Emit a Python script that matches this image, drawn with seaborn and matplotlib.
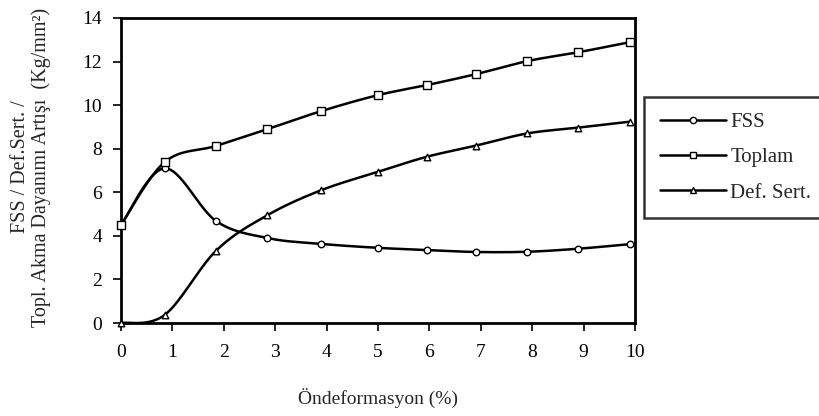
import numpy as np
import pandas as pd
import matplotlib
matplotlib.use("Agg")
import matplotlib.pyplot as plt
import seaborn as sns
from matplotlib.lines import Line2D

# ---- data ----
x_vals = [0, 0.85, 1.85, 2.85, 3.9, 5.0, 5.95, 6.9, 7.9, 8.9, 9.9]
fss = [4.5, 7.1, 4.68, 3.9, 3.63, 3.45, 3.35, 3.26, 3.27, 3.41, 3.62]
toplam = [4.5, 7.39, 8.13, 8.9, 9.73, 10.46, 10.92, 11.42, 12.02, 12.43, 12.89]
def_sert = [0.0, 0.37, 3.32, 4.95, 6.1, 6.94, 7.63, 8.14, 8.7, 8.97, 9.24]
series_names = ["FSS", "Toplam", "Def. Sert."]
series_markers = ["o", "s", "^"]
x_ticks = list(range(0, 11))
y_ticks = list(range(0, 15, 2))

def smooth(xs, ys, n=30):
    """Excel-style smoothed line (Bezier with tension 1/6)."""
    P = np.column_stack([xs, ys]).astype(float)
    out = []
    m = len(P)
    for i in range(m - 1):
        p0 = P[i - 1] if i > 0 else P[i]
        p1 = P[i]
        p2 = P[i + 1]
        p3 = P[i + 2] if i + 2 < m else P[i + 1]
        c1 = p1 + (p2 - p0) / 6.0
        c2 = p2 - (p3 - p1) / 6.0
        t = np.linspace(0, 1, n, endpoint=(i == m - 2))[:, None]
        b = ((1 - t) ** 3) * p1 + 3 * ((1 - t) ** 2) * t * c1 + 3 * (1 - t) * t ** 2 * c2 + t ** 3 * p2
        out.append(b)
    return np.vstack(out)

sns.set_style("white")
plt.rcParams["font.family"] = ["Liberation Serif", "DejaVu Serif"]

FS = 14

fig = plt.figure(figsize=(8.19, 4.16), dpi=100)
ax = fig.add_axes([121 / 819, 1 - 323 / 416, (635 - 121) / 819, (323 - 18) / 416])

rows = []
for name, ys in zip(series_names, [fss, toplam, def_sert]):
    curve = smooth(x_vals, ys)
    df = pd.DataFrame({"x": curve[:, 0], "y": curve[:, 1]})
    sns.lineplot(data=df, x="x", y="y", ax=ax, color="black", linewidth=1.8,
                 sort=False, estimator=None)
    for xv, yv in zip(x_vals, ys):
        rows.append({"x": xv, "y": yv, "series": name})

pts = pd.DataFrame(rows)
for name, mk in zip(series_names, series_markers):
    sub = pts[pts["series"] == name]
    sns.scatterplot(data=sub, x="x", y="y", ax=ax, marker=mk, s=28 if mk == "s" else 22,
                    facecolor="white", edgecolor="black", linewidth=1.0, zorder=5,
                    clip_on=False)

ax.set_xlim(0, 10)
ax.set_ylim(0, 14)
ax.set_xticks(x_ticks)
ax.set_yticks(y_ticks)
ax.tick_params(axis="both", direction="out", length=5.5, width=1.2, labelsize=FS,
               bottom=True, left=True, colors="black")
ax.tick_params(axis="x", pad=9.5)
ax.tick_params(axis="y", pad=8)
for s in ax.spines.values():
    s.set_visible(True)
    s.set_color("black")
    s.set_linewidth(2.0)

ax.set_xlabel("")
ax.set_ylabel("")
fig.text(378 / 819, 1 - 398 / 416, "Öndeformasyon (%)", fontsize=FS, ha="center", va="center")
fig.text(31 / 819, 1 - 167 / 416, "FSS / Def.Sert. /\nTopl. Akma Dayanımı Artışı  (Kg/mm²)",
         fontsize=14.5, rotation=90, ha="center", va="center", multialignment="center",
         linespacing=1.1)

handles = [Line2D([0], [0], color="black", linewidth=1.8, marker=mk, markersize=4.5,
                  markerfacecolor="white", markeredgecolor="black", markeredgewidth=1.0)
           for mk in series_markers]
leg = fig.legend(handles, series_names, loc="upper left",
                 bbox_to_anchor=(644 / 819, 1 - 97 / 416), frameon=True, fancybox=False,
                 fontsize=15, handlelength=3.2, labelspacing=0.75, borderpad=0.75,
                 handletextpad=0.2, borderaxespad=0)
leg.get_frame().set_edgecolor("black")
leg.get_frame().set_linewidth(1.8)

fig.savefig("out.png", dpi=100)
